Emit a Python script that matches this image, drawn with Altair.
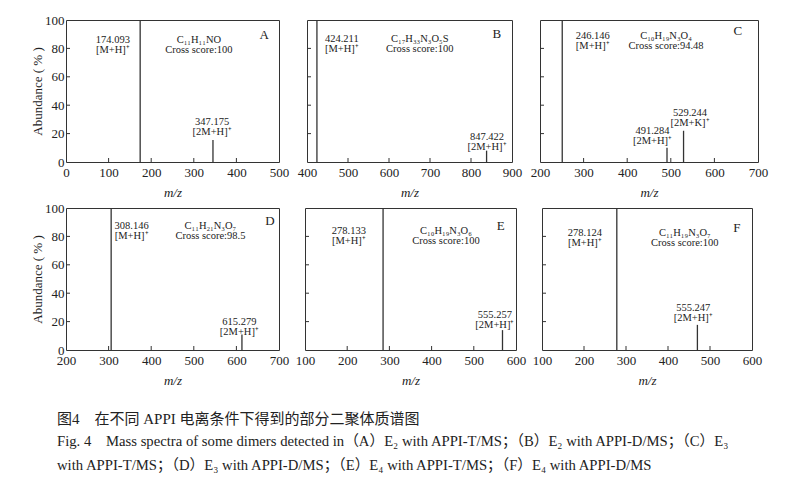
import altair as alt
import pandas as pd

FONT = "Liberation Serif"
CAP_FONT = "Liberation Serif, Noto Sans CJK SC"
TXT = "#222222"
LINE = "#333333"

# ---------------- data ----------------
panel_names = ["A", "B", "C", "D", "E", "F"]
x_domains = [[0, 500], [400, 900], [200, 700], [200, 700], [100, 600], [100, 600]]
x_step = 100
y_ticks = [0, 20, 40, 60, 80, 100]

peak_mz = [[174.093, 345.0], [424.211, 838.0], [251.0, 491.284, 529.244],
           [306.0, 613.0], [285.0, 568.0], [278.124, 470.0]]
peak_ab = [[100, 15.5], [100, 8.0], [100, 10.0, 22.0],
           [100, 11.0], [100, 14.0], [100, 17.7]]

ion_text = [["174.093\n[M+H]⁺", "347.175\n[2M+H]⁺"],
            ["424.211\n[M+H]⁺", "847.422\n[2M+H]⁺"],
            ["246.146\n[M+H]⁺", "491.284\n[2M+H]⁺", "529.244\n[2M+K]⁺"],
            ["308.146\n[M+H]⁺", "615.279\n[2M+H]⁺"],
            ["278.133\n[M+H]⁺", "555.257\n[2M+H]⁺"],
            ["278.124\n[M+H]⁺", "555.247\n[2M+H]⁺"]]
ion_x = [[110, 343], [485, 839], [321, 458, 544], [354, 607], [204, 550], [202, 460]]
ion_y = [[86, 28.3], [86.7, 17.5], [88.5, 22, 34.8], [87.5, 20], [83.5, 24.5], [82.5, 29.5]]

formulas = ["C₁₁H₁₁NO", "C₁₇H₃₃N₃O₅S", "C₁₀H₁₉N₃O₄", "C₁₁H₂₁N₃O₇", "C₁₀H₁₉N₃O₆", "C₁₁H₁₉N₃O₇"]
scores = ["100", "100", "94.48", "98.5", "100", "100"]
formula_x = [312, 675, 489, 539, 434, 440]
letter_x = [465, 863, 654, 679, 564, 564]

caption_lines = [
    "图4　在不同 APPI 电离条件下得到的部分二聚体质谱图",
    "Fig. 4　Mass spectra of some dimers detected in（A）E₂ with APPI-T/MS；（B）E₂ with APPI-D/MS；（C）E₃",
    "with APPI-T/MS；（D）E₃ with APPI-D/MS；（E）E₄ with APPI-T/MS；（F）E₄ with APPI-D/MS",
]

panel_w = [213, 205, 218, 213, 211, 210]
PANEL_H = 142


def panel(i):
    lo, hi = x_domains[i]
    xticks = list(range(lo, hi + 1, x_step))
    left = (i % 3 == 0)
    xs = alt.Scale(domain=[lo, hi], nice=False, zero=False)
    ys = alt.Scale(domain=[0, 100], nice=False, zero=False)
    xenc = alt.X("x:Q", scale=xs,
                 axis=alt.Axis(values=xticks, title="m/z", ticks=False, domain=False,
                               grid=False, labelFlush=False, labelOverlap=False,
                               labelPadding=4, titlePadding=7, titleFontStyle="italic",
                               format="d"))
    if left:
        yaxis = alt.Axis(values=y_ticks, title="Abundance ( % )", ticks=False, domain=False,
                         grid=False, labelFlush=False, labelOverlap=False,
                         labelPadding=2, titlePadding=0, format="d")
        yenc = alt.Y("y:Q", scale=ys, axis=yaxis)
    else:
        yenc = alt.Y("y:Q", scale=ys, axis=None)

    peaks = pd.DataFrame({"x": peak_mz[i], "y": peak_ab[i]})
    lines = alt.Chart(peaks).mark_rule(color=LINE, strokeWidth=1.3).encode(
        x=xenc, y=yenc, y2=alt.datum(0))

    xt = pd.DataFrame({"x": xticks[1:-1]})
    xtick_layer = alt.Chart(xt).mark_rule(color=LINE, strokeWidth=1).encode(
        x=xenc, y=alt.value(PANEL_H), y2=alt.value(PANEL_H - 4))

    yt = pd.DataFrame({"y": y_ticks[1:-1]})
    ytick_layer = alt.Chart(yt).mark_rule(color=LINE, strokeWidth=1).encode(
        y=yenc, x=alt.value(0), x2=alt.value(4))

    ions = pd.DataFrame({"x": ion_x[i], "y": ion_y[i], "t": ion_text[i]})
    ion_layer = alt.Chart(ions).mark_text(
        lineBreak="\n", font=FONT, fontSize=10.5, lineHeight=10, color=TXT,
        align="center", baseline="middle").encode(x=xenc, y=yenc, text="t:N")

    form = pd.DataFrame({"x": [formula_x[i]], "y": [ion_y[i][0]],
                         "t": [formulas[i] + "\nCross score:" + scores[i]]})
    form_layer = alt.Chart(form).mark_text(
        lineBreak="\n", font=FONT, fontSize=10.5, lineHeight=10, color=TXT,
        align="center", baseline="middle").encode(x=xenc, y=yenc, text="t:N")

    let = pd.DataFrame({"x": [letter_x[i]], "y": [ion_y[i][0] + 3.5], "t": [panel_names[i]]})
    let_layer = alt.Chart(let).mark_text(
        font=FONT, fontSize=13, color=TXT, align="center", baseline="middle").encode(
        x=xenc, y=yenc, text="t:N")

    return alt.layer(lines, xtick_layer, ytick_layer, ion_layer, form_layer, let_layer).properties(
        width=panel_w[i], height=PANEL_H)


row1 = alt.hconcat(panel(0), panel(1), panel(2), spacing=28, bounds="flush")
row2 = alt.hconcat(panel(3), panel(4), panel(5), spacing=26, bounds="flush")

cap_layers = []
cap_y = [28.5, 52, 76]
cap_size = [15, 14.7, 14.7]
for k, line in enumerate(caption_lines):
    cap_layers.append(
        alt.Chart(pd.DataFrame({"t": [line]})).mark_text(
            align="left", baseline="middle", font=CAP_FONT, fontSize=cap_size[k], color=TXT
        ).encode(text="t:N", x=alt.value(-9), y=alt.value(cap_y[k]))
    )
caption = alt.layer(*cap_layers).properties(
    width=680, height=70, view=alt.ViewBackground(stroke="transparent"))

chart = alt.vconcat(row1, row2, caption, spacing=1).properties(
    padding={"left": 23, "top": 5, "right": 5, "bottom": 0},
    background="white",
).configure_view(stroke=LINE, strokeWidth=1).configure_axis(
    labelFont=FONT, titleFont=FONT, labelFontSize=13, titleFontSize=13,
    titleFontWeight="normal", labelColor=TXT, titleColor=TXT)

chart.save("out.html", embed_options={"renderer": "svg", "actions": False})
